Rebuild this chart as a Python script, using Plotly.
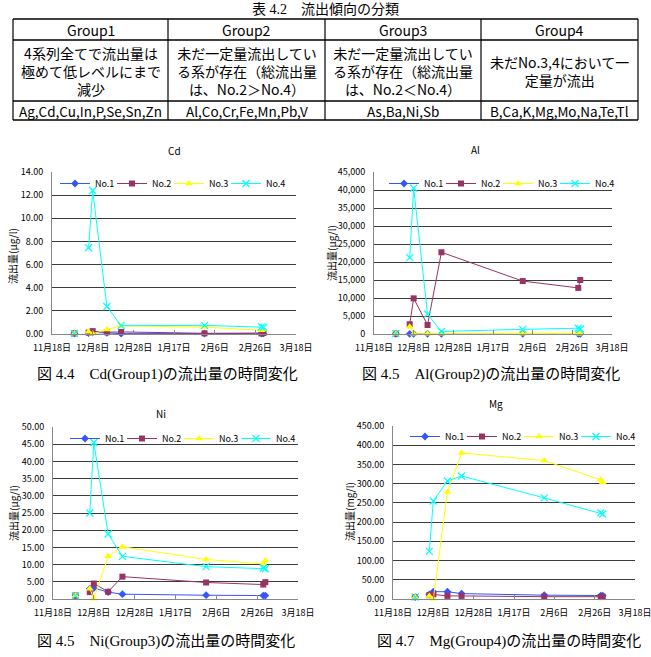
import plotly.graph_objects as go

W, H = 651, 657


def fx(x):
    return x / W


def fy(y):
    return 1 - y / H


# ---------------- table data ----------------
table_title = "表 4.2　流出傾向の分類"
groups = ["Group1", "Group2", "Group3", "Group4"]
descriptions = [
    ["4系列全てで流出量は", "極めて低レベルにまで", "減少"],
    ["未だ一定量流出してい", "る系が存在（総流出量", "は、No.2＞No.4）"],
    ["未だ一定量流出してい", "る系が存在（総流出量", "は、No.2＜No.4）"],
    ["未だNo.3,4において一", "定量が流出"],
]
elements = ["Ag,Cd,Cu,In,P,Se,Sn,Zn", "Al,Co,Cr,Fe,Mn,Pb,V", "As,Ba,Ni,Sb", "B,Ca,K,Mg,Mo,Na,Te,Tl"]

# ---------------- chart data ----------------
dates = ["2009-11-29", "2009-12-01", "2009-12-06", "2009-12-08", "2009-12-15",
         "2009-12-22", "2010-02-01", "2010-03-01", "2010-03-02"]
tick_dates = ["2009-11-18", "2009-12-08", "2009-12-28", "2010-01-17",
              "2010-02-06", "2010-02-26", "2010-03-18"]
tick_labels = ["11月18日", "12月8日", "12月28日", "1月17日", "2月6日", "2月26日", "3月18日"]
series_names = ["No.1", "No.2", "No.3", "No.4"]

cd_no1 = [0.05, None, 0.08, 0.12, 0.10, 0.03, 0.04, 0.04, 0.05]
cd_no2 = [0.05, None, 0.12, 0.25, 0.15, 0.18, 0.06, 0.05, 0.08]
cd_no3 = [0.05, None, 0.20, 0.02, 0.38, 0.70, 0.60, 0.32, 0.38]
cd_no4 = [0.05, None, 7.45, 12.40, 2.38, 0.72, 0.75, 0.62, 0.58]

al_no1 = [50, None, 30, 40, 40, 30, 40, 30, 30]
al_no2 = [100, None, 2700, 9900, 2500, 22700, 14700, 12800, 15000]
al_no3 = [100, None, 2000, 50, 100, 100, 100, 100, 150]
al_no4 = [100, None, 21200, 40500, 5500, 700, 1300, 1600, 1400]

ni_no1 = [1.0, None, 3.0, 3.2, 2.0, 1.4, 1.1, 1.0, 1.0]
ni_no2 = [1.0, None, 2.0, 4.5, 2.1, 6.5, 4.8, 4.2, 4.9]
ni_no3 = [1.0, None, 3.0, 0.1, 12.4, 15.2, 11.5, 10.2, 11.2]
ni_no4 = [1.0, None, 25.0, 45.5, 18.9, 12.4, 9.4, 9.0, 8.8]

mg_no1 = [5, None, 12, 19, 19, 14, 10, 9, 9]
mg_no2 = [5, None, 10, 12, 8, 8, 6, 5, 6]
mg_no3 = [5, None, 8, 0.5, 278, 380, 360, 310, 303]
mg_no4 = [5, None, 124, 255, 307, 320, 263, 224, 221]

colors = ["#3355FF", "#993366", "#FFFF00", "#00FFFF"]
symbols = ["diamond", "square", "triangle-up", "x-thin"]
msizes = [6, 6, 7, 7]

FONT = "Noto Sans CJK JP"
SERIF = "Liberation Serif, Noto Sans CJK JP"

charts = [
    dict(title="Cd", series=[cd_no1, cd_no2, cd_no3, cd_no4], yr=[0, 14], dt=2, fmt=".2f",
         box=(52, 296, 172, 334), ttl=(174, 150), ytitle="流出量(μg/l)", ytpos=(12, 256),
         leg=(174, 169), cap="図 4.4　Cd(Group1)の流出量の時間変化", cappos=(35, 374)),
    dict(title="Al", series=[al_no1, al_no2, al_no3, al_no4], yr=[0, 45000], dt=5000, fmt=",d",
         box=(374, 612, 172, 334), ttl=(475, 149), ytitle="流出量(μg/l)", ytpos=(331, 253),
         leg=(503, 169), cap="図 4.5　Al(Group2)の流出量の時間変化", cappos=(360, 374)),
    dict(title="Ni", series=[ni_no1, ni_no2, ni_no3, ni_no4], yr=[0, 50], dt=5, fmt=".2f",
         box=(53, 298, 427, 599), ttl=(161, 413), ytitle="流出量(μg/l)", ytpos=(13, 513),
         leg=(184, 424), cap="図 4.5　Ni(Group3)の流出量の時間変化", cappos=(35, 641)),
    dict(title="Mg", series=[mg_no1, mg_no2, mg_no3, mg_no4], yr=[0, 450], dt=50, fmt=".2f",
         box=(393, 635, 426, 599), ttl=(496, 403), ytitle="流出量(mg/l)", ytpos=(349, 512),
         leg=(524, 422), cap="図 4.7　Mg(Group4)の流出量の時間変化", cappos=(375, 641)),
]


def ann(text, x, y, size, family=FONT, xanchor="center", angle=0):
    return dict(text=text, x=fx(x), y=fy(y), xref="paper", yref="paper", showarrow=False,
                xanchor=xanchor, yanchor="middle", textangle=angle, align="center",
                font=dict(size=size, family=family, color="black"))


fig = go.Figure()
annotations = []
shapes = []
layout = dict(
    template="none",
    width=W, height=H, margin=dict(l=0, r=0, t=0, b=0, autoexpand=False),
    paper_bgcolor="white", plot_bgcolor="white",
    font=dict(family=FONT, size=9, color="black"),
    showlegend=True,
)

for i, ch in enumerate(charts):
    n = "" if i == 0 else str(i + 1)
    xa, ya = "x" + n, "y" + n
    legname = "legend" + n
    x0, x1, y0, y1 = ch["box"]
    for k in range(4):
        fig.add_trace(go.Scatter(
            x=dates, y=ch["series"][k], name=series_names[k], mode="lines+markers",
            xaxis=xa, yaxis=ya, legend=legname, connectgaps=False, cliponaxis=False,
            legendwidth=22 if k == 3 else 12,
            line=dict(color=colors[k], width=1),
            marker=dict(symbol=symbols[k], size=msizes[k], color=colors[k],
                        line=dict(color=colors[k], width=1.2 if k == 3 else 0)),
        ))
    layout["xaxis" + n] = dict(
        domain=[fx(x0), fx(x1)], anchor=ya, type="date", automargin=False,
        range=[tick_dates[0], tick_dates[-1]],
        tickmode="array", tickvals=tick_dates, ticktext=tick_labels, tickangle=0,
        ticklabeloverflow="allow",
        showgrid=False, zeroline=False, showline=True, linecolor="#888888", linewidth=1,
        ticks="inside", ticklen=4, tickcolor="#888888",
        tickfont=dict(size=9, family=FONT), ticklabelstandoff=5,
    )
    layout["yaxis" + n] = dict(
        domain=[fy(y1), fy(y0)], anchor=xa, range=ch["yr"], dtick=ch["dt"], tick0=0,
        automargin=False, ticklabeloverflow="allow",
        tickformat=ch["fmt"], showgrid=True, gridcolor="#3c3c3c", gridwidth=1,
        zeroline=False, showline=True, linecolor="#888888", linewidth=1, ticks="",
        tickfont=dict(size=9, family=FONT), ticklabelstandoff=6,
    )
    layout[legname] = dict(
        orientation="h", x=fx(ch["leg"][0]), y=fy(ch["leg"][1]), xanchor="center", yanchor="top",
        xref="paper", yref="paper",
        font=dict(size=9, family=FONT), bgcolor="rgba(0,0,0,0)", borderwidth=0,
        itemwidth=30, tracegroupgap=0,
    )
    annotations.append(ann(ch["title"], ch["ttl"][0], ch["ttl"][1], 10))
    annotations.append(ann(ch["ytitle"], ch["ytpos"][0], ch["ytpos"][1], 10, angle=-90))
    annotations.append(ann(ch["cap"], ch["cappos"][0], ch["cappos"][1], 15, SERIF, xanchor="left"))

# ---------------- table drawing ----------------
col_edges = [13, 168, 325, 481, 638]
row_lines = [19, 40, 101, 120]
for yl in row_lines:
    shapes.append(dict(type="line", xref="paper", yref="paper",
                       x0=fx(col_edges[0]), x1=fx(col_edges[-1]), y0=fy(yl), y1=fy(yl),
                       line=dict(color="black", width=1.6)))
for xl in col_edges:
    shapes.append(dict(type="line", xref="paper", yref="paper",
                       x0=fx(xl), x1=fx(xl), y0=fy(row_lines[0]), y1=fy(row_lines[-1]),
                       line=dict(color="black", width=1.2)))

annotations.append(ann(table_title, 325.5, 9, 14, SERIF))
for c in range(4):
    cx = (col_edges[c] + col_edges[c + 1]) / 2
    annotations.append(ann(groups[c], cx, 30, 14))
    annotations.append(ann("<br>".join(descriptions[c]), cx, 70.5, 14))
    annotations.append(ann(elements[c], cx, 111, 13.5))

layout["annotations"] = annotations
layout["shapes"] = shapes
fig.update_layout(**layout)
fig.write_html("out.html")
